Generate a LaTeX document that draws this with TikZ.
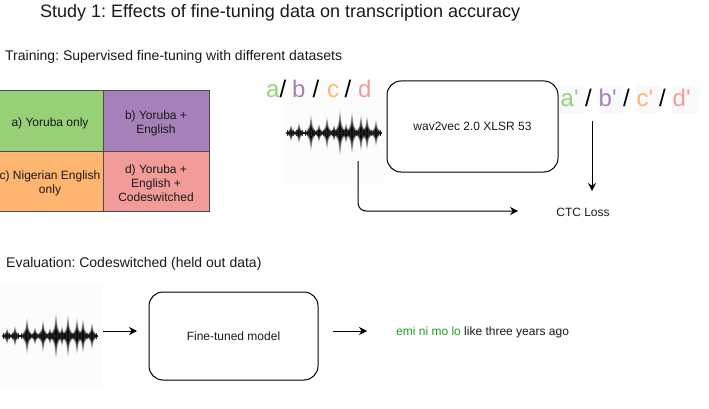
\documentclass[tikz,border=0pt]{standalone}
\usepackage{fontspec}
\setmainfont{Liberation Sans}
\newfontfamily\straightfont{Liberation Sans}
\usepackage{tikz}
\usetikzlibrary{arrows.meta,patterns}
\definecolor{cgreen}{HTML}{97D077}
\definecolor{cpurple}{HTML}{A680B8}
\definecolor{corange}{HTML}{FFB570}
\definecolor{cred}{HTML}{F19C99}
\definecolor{cborder}{HTML}{4A4A50}
\definecolor{cpale}{HTML}{F8F9FA}
\definecolor{cemi}{HTML}{1FA01F}
\newcommand{\celldown}{\rule{0pt}{14pt}}
\frenchspacing
\tikzset{
heading/.style={anchor=west,inner sep=0pt,font=\fontsize{14}{16}\selectfont,text=black!90},
cell/.style={draw=cborder,line width=1pt,minimum width=106pt,minimum height=60pt,inner sep=0pt,outer sep=0pt,align=center,
  font=\fontsize{12}{14}\selectfont,text=black!90},
bigletter/.style={anchor=base west,inner sep=0pt,font=\straightfont\fontsize{24}{26}\selectfont},
outletter/.style={bigletter,fill=cpale,text width=24pt,text height=21pt,text depth=6pt,inner xsep=.5pt,align=left},
model/.style={draw=black,line width=1pt,rounded corners=14pt,inner sep=0pt,font=\fontsize{12}{14}\selectfont,text=black!90},
plain/.style={inner sep=0pt,font=\fontsize{12}{14}\selectfont,text=black!90},
wavebox/.style={minimum width=102pt,minimum height=102pt,inner sep=0pt,fill=black!1,
  pattern=north east lines,pattern color=black!3},
arrow/.style={draw=black,line width=1pt,-{Stealth[length=8pt,width=8pt]}},
pics/waveform/.style={code={
  \foreach \px/\ph in {4/8,12/10,24/18,32/9,40/16,47/8,53/23,59/10,65/21,74/18,80/17,89/13} {
    \foreach \f/\o in {1/.3,.8/.35,.55/.55,.35/.85} {
      \fill[black,opacity=\o] (\px-5.5,0) -- (\px-1.6,-\ph*\f*.4) -- (\px,-\ph*\f) -- (\px+1.6,-\ph*\f*.4) -- (\px+5.5,0)
        -- (\px+1.6,\ph*\f*.4) -- (\px,\ph*\f) -- (\px-1.6,\ph*\f*.4) -- cycle;
    }
  }
  \foreach \tx in {0,3,...,93} {
    \draw[black!80,line width=.6pt] (\tx,-3) -- (\tx,3);
  }
  \draw[black!90,line width=1.3pt] (0,0) -- (95,0);
}},
}
\begin{document}
\begin{tikzpicture}[x=1pt,y=-1pt]
\useasboundingbox (0,0) rectangle (709,409);
\node[anchor=west,inner sep=0pt,font=\fontsize{18}{20}\selectfont,text=black!90] (title) at (40,12.5)
  {Study 1: Effects of fine-tuning data on transcription accuracy};
\node[heading] (training) at (5,56.5) {Training: Supervised fine-tuning with different datasets};
\node[heading] (evaluation) at (6,263.5) {Evaluation: Codeswitched (held out data)};

% datasets
\node[cell,fill=cgreen] (yoruba) at (50,121) {\celldown a) Yoruba only};
\node[cell,fill=cpurple] (mixed) at (156,121) {\celldown b) Yoruba +\\English};
\node[cell,fill=corange] (nigerian) at (50,181) {\celldown c) Nigerian English\\only};
\node[cell,fill=cred] (codesw) at (156,181) {\celldown d) Yoruba +\\English +\\Codeswitched};

% top row
\node[wavebox] (wavetrain) at (334,133) {};
\pic at (287,133) {waveform};
\node[bigletter,text=cgreen] (ina) at (266,97.5) {a};
\node[bigletter] (sa) at (279.5,97.5) {/};
\node[bigletter,text=cpurple] (inb) at (292,97.5) {b};
\node[bigletter] (sb) at (312.5,97.5) {/};
\node[bigletter,text=corange] (inc) at (327,97.5) {c};
\node[bigletter] (sc) at (344.5,97.5) {/};
\node[bigletter,text=cred] (ind) at (358,97.5) {d};
\node[model,minimum width=171pt,minimum height=91pt] (wav) at (472.5,126.5) {wav2vec 2.0 XLSR 53};
\node[outletter,text=cgreen] (outa) at (560,107) {a'};
\node[bigletter] (oa) at (585,107) {/};
\node[outletter,text=cpurple] (outb) at (598,107) {b'};
\node[bigletter] (ob) at (623,107) {/};
\node[outletter,text=corange] (outc) at (636,107) {c'};
\node[bigletter] (oc) at (659,107) {/};
\node[outletter,text=cred] (outd) at (672,107) {d'};
\node[plain] (ctc) at (583,212) {CTC Loss};
\coordinate (wavefoot) at (358,161);
\coordinate (trainturn) at (358,211);
\coordinate (trainend) at (518,211);
\coordinate (ctcfrom) at (592,121);
\coordinate (ctcto) at (592,191);
\draw[arrow,rounded corners=8pt] (wavefoot) -- (trainturn) -- (trainend);
\draw[arrow] (ctcfrom) -- (ctcto);

% bottom row
\node[wavebox] (waveeval) at (51,336) {};
\pic at (3,336) {waveform};
\node[model,minimum width=169pt,minimum height=88pt] (tuned) at (233.5,336) {Fine-tuned model};
\node[plain,anchor=west] (result) at (396,332) {\textcolor{cemi}{emi ni mo lo} like three years ago};
\coordinate (evalfrom) at (103,331);
\coordinate (evalto) at (137,331);
\coordinate (tunedfrom) at (333,331);
\coordinate (tunedto) at (367,331);
\draw[arrow] (evalfrom) -- (evalto);
\draw[arrow] (tunedfrom) -- (tunedto);
\end{tikzpicture}
\end{document}
